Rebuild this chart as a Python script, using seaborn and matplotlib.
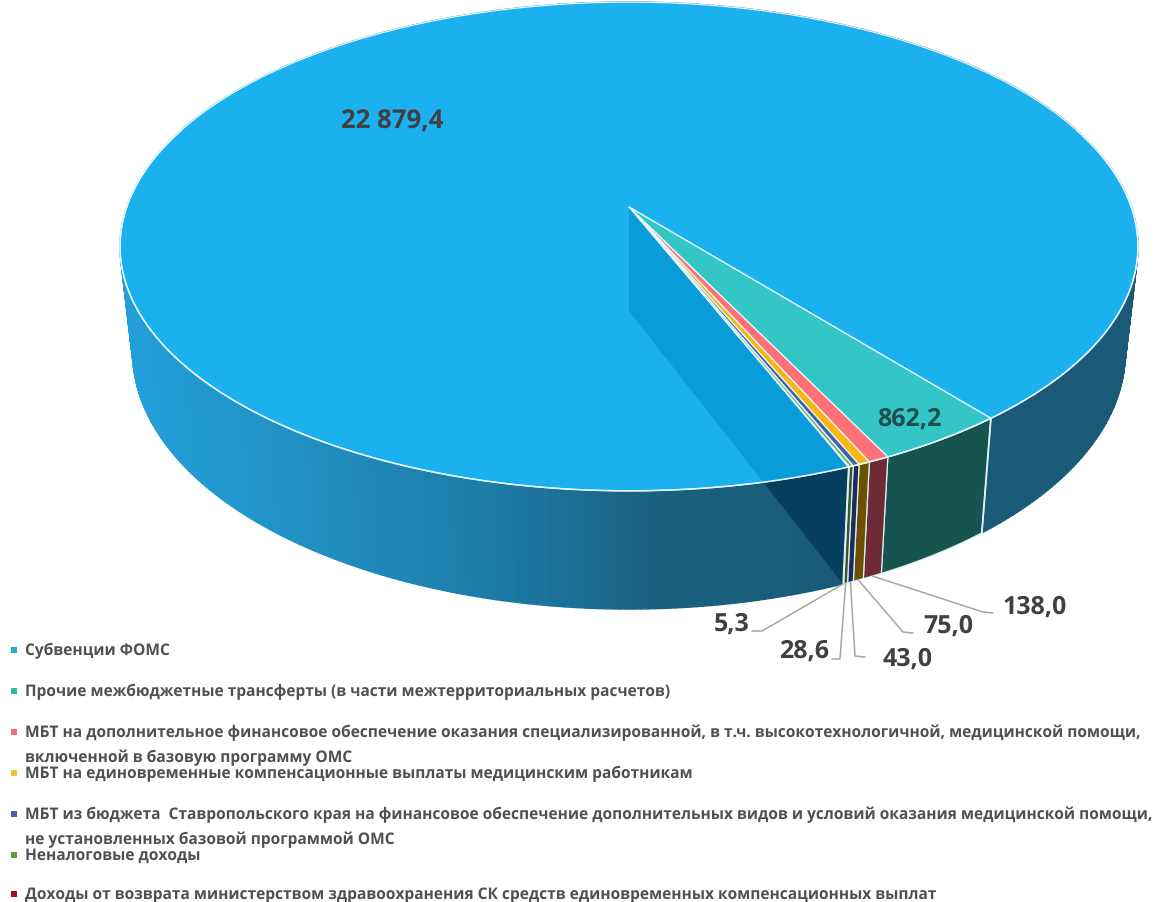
import numpy as np
import matplotlib
matplotlib.use("Agg")
import matplotlib.pyplot as plt
import seaborn as sns
from matplotlib.collections import PolyCollection
from matplotlib.colors import LinearSegmentedColormap
from matplotlib.patches import Polygon
from matplotlib.transforms import Transform

categories = [
    "Субвенции ФОМС",
    "Прочие межбюджетные трансферты (в части межтерриториальных расчетов)",
    "МБТ на дополнительное финансовое обеспечение оказания специализированной, в т.ч. высокотехнологичной, медицинской помощи,\nвключенной в базовую программу ОМС",
    "МБТ на единовременные компенсационные выплаты медицинским работникам",
    "МБТ из бюджета  Ставропольского края на финансовое обеспечение дополнительных видов и условий оказания медицинской помощи,\nне установленных базовой программой ОМС",
    "Неналоговые доходы",
    "Доходы от возврата министерством здравоохранения СК средств единовременных компенсационных выплат",
]
values = [22879.4, 862.2, 138.0, 75.0, 43.0, 28.6, 5.3]
value_labels = ["22 879,4", "862,2", "138,0", "75,0", "43,0", "28,6", "5,3"]
top_colors = ["#1BB1EE", "#33C6C4", "#FF7079", "#F7B70F", "#3F62A8", "#7FB56A", "#C00000"]
side_colors = ["#1A5A78", "#17534F", "#6E2B35", "#6B5000", "#1F2A5E", "#35582C", "#5A0A0A"]
marker_colors = ["#2FA5D0", "#33B5B0", "#F07080", "#F5C030", "#3F62A8", "#6A9A3A", "#A01020"]

sns.set_theme(style="white")
plt.rcParams["font.family"] = ["Open Sans", "Noto Sans", "DejaVu Sans"]
plt.rcParams["text.hinting"] = "no_hinting"
palette = sns.color_palette(top_colors)

W, H = 1168, 903
CX, CY_TOP, CY_LOW = 629.0, 208.0, 312.0
A, B, P = 502.3, 238.0, 0.1615
A_LOW, B_LOW = A * 0.975, B * 1.05
START = -68.2


class Persp(Transform):
    input_dims = 2
    output_dims = 2

    def __init__(self, a, b, cy):
        super().__init__()
        self.a, self.b, self.cy = a, b, cy

    def transform_non_affine(self, values):
        v = np.asarray(values, dtype=float)
        w = 1 + P * v[:, 1]
        return np.column_stack((CX + self.a * v[:, 0] / w, self.cy - self.b * v[:, 1] / w))


top = Persp(A, B, CY_TOP)
low = Persp(A_LOW, B_LOW, CY_LOW)


def rim(t, proj):
    r = np.radians(np.atleast_1d(t))
    return proj.transform_non_affine(np.column_stack((np.cos(r), np.sin(r))))


fig = plt.figure(figsize=(W / 100, H / 100), dpi=100, facecolor="white")
ax = fig.add_axes([0, 0, 1, 1])
wedges, _ = ax.pie(values, startangle=START, counterclock=False, colors=palette,
                   wedgeprops=dict(edgecolor="#E8F8FF", linewidth=0.9))
ax.set_aspect("auto")
ax.set_xlim(0, W)
ax.set_ylim(H, 0)
ax.axis("off")
for w in wedges:
    w.set_transform(top + ax.transData)
    w.set_zorder(3)

# Side wall: main slice with a horizontal shading
shade = LinearSegmentedColormap.from_list(
    "side", ["#22A0DA", "#2190C4", "#1D7CA8", "#1A6080", "#1A5A78"])
polys, cols = [], []
main = wedges[0]
ts = np.linspace(main.theta1, main.theta2, 500)
p_top, p_low = rim(ts, top), rim(ts, low)
for i in range(len(ts) - 1):
    polys.append([p_top[i], p_top[i + 1], p_low[i + 1], p_low[i]])
    xm = (p_top[i, 0] + p_low[i, 0]) / 2
    cols.append(shade(np.clip((xm - 122) / (840 - 122), 0, 1)))
ax.add_collection(PolyCollection(polys, facecolors=cols, edgecolors=cols, linewidths=1.0, zorder=1))

# Side wall: remaining slices
for w, c in zip(wedges[1:], side_colors[1:]):
    t = np.linspace(w.theta1, w.theta2, 30)
    pts = np.vstack((rim(t, top), rim(t[::-1], low)))
    ax.add_patch(Polygon(pts, closed=True, facecolor=c, edgecolor="#DDEFF2", linewidth=0.9, zorder=1.4))

# Divider where the main slice meets the teal slice
bnd = main.theta1
ax.plot(*np.vstack((rim(bnd, top), rim(bnd, low))).T, color="#DDF3F8", lw=1.3, zorder=1.6)

# Cut face of the main slice (seen through the top and on the side wall)
end = main.theta2
cut = np.vstack(([[CX, CY_TOP]], [[CX, CY_LOW]], rim(end, low), rim(end, top)))
ax.add_patch(Polygon(cut, closed=True, facecolor="#073F60", edgecolor="none", zorder=1.3))
cut_top = Polygon(cut, closed=True, facecolor="#0A9BD9", edgecolor="none", zorder=3.5)
ax.add_patch(cut_top)
cut_top.set_clip_path(main)

# Bright rim on the front edge and on the slice edges
t = np.linspace(-200, 20, 300)
ax.plot(*rim(t, top).T, color="#E8F8FF", lw=1.1, zorder=4)
ax.plot(*np.vstack(([[CX, CY_TOP]], rim(end, top))).T, color="#E8F8FF", lw=0.9, zorder=4)

# Value labels
tc = "#404040"
ax.text(392, 122, value_labels[0], ha="center", va="center", fontsize=18.5, fontweight="bold", color=tc, zorder=6)
ax.text(909, 419, value_labels[1], ha="center", va="center", fontsize=18, fontweight="bold", color="#1F4F52", zorder=6)

label_pos = {2: (1035, 607), 3: (948, 626), 4: (908, 659), 5: (804, 651), 6: (732, 624)}
elbow = {2: [(983, 613), (993, 614)], 3: [(903, 633), (913, 634)], 4: [(855, 657), (865, 658)],
         5: [(840, 660), (832, 660)], 6: [(762, 632), (752, 632)]}
for i, (x, y) in label_pos.items():
    ax.text(x, y, value_labels[i], ha="center", va="center", fontsize=18, fontweight="bold", color=tc, zorder=6)
    mid = (wedges[i].theta1 + wedges[i].theta2) / 2
    line = np.vstack((rim(mid, low), elbow[i]))
    ax.plot(*line.T, color="#A6A6A6", lw=1.1, zorder=5)

# Legend
ys = [651, 692, 733, 774, 815, 856, 895]
ax.scatter([14] * len(ys), ys, marker="s", s=16, c=marker_colors, linewidths=0, zorder=6)
for name, y in zip(categories, ys):
    for j, line in enumerate(name.split("\n")):
        ax.text(25, y + 25 * j, line, ha="left", va="center", fontsize=11.2, fontweight="bold", color="#505050", zorder=6)

fig.savefig("out.png", dpi=100, facecolor="white")
